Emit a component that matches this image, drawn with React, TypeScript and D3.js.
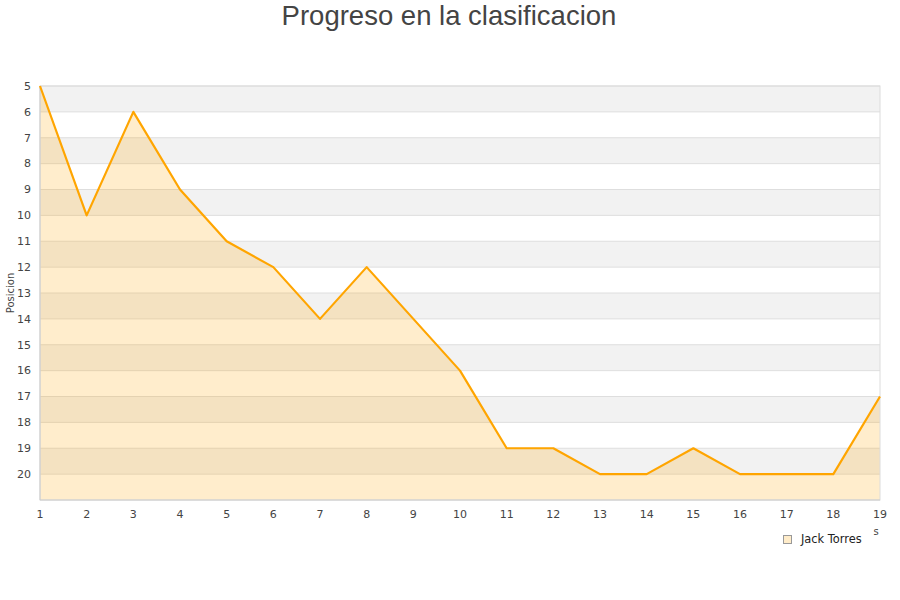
import React from "react";
import * as d3 from "d3";

// Matchdays (jornadas) and league position after each one
const jornadas = [1, 2, 3, 4, 5, 6, 7, 8, 9, 10, 11, 12, 13, 14, 15, 16, 17, 18, 19];
const posiciones = [5, 10, 6, 9, 11, 12, 14, 12, 14, 16, 19, 19, 20, 20, 19, 20, 20, 20, 17];
const yTicks = [5, 6, 7, 8, 9, 10, 11, 12, 13, 14, 15, 16, 17, 18, 19, 20];
const serie = "Jack Torres";
const titulo = "Progreso en la clasificacion";

const W = 900;
const H = 600;
const M = { left: 40, right: 880, top: 86, bottom: 500 };
const FONT = "'DejaVu Sans', sans-serif";

export default function App() {
  const x = d3.scaleLinear().domain([1, 19]).range([M.left, M.right]);
  const y = d3.scaleLinear().domain([5, 21]).range([M.top, M.bottom]);

  const data = jornadas.map((j, i) => ({ j, p: posiciones[i] }));
  const line = d3
    .line<{ j: number; p: number }>()
    .x((d) => x(d.j))
    .y((d) => y(d.p));
  const area = d3
    .area<{ j: number; p: number }>()
    .x((d) => x(d.j))
    .y0(M.bottom)
    .y1((d) => y(d.p));

  // alternating horizontal bands, one per position
  const bands = d3.range(5, 21);

  return (
    <svg
      width={W}
      height={H}
      style={{ position: "absolute", left: 0, top: 0, background: "#fff" }}
    >
      <text
        x={449}
        y={25}
        textAnchor="middle"
        fontFamily="'Liberation Sans', Arial, sans-serif"
        fontSize={27.5}
        fill="#444"
      >
        {titulo}
      </text>

      {bands.map((b, i) => (
        <rect
          key={b}
          x={M.left}
          y={y(b)}
          width={M.right - M.left}
          height={y(b + 1) - y(b)}
          fill={i % 2 === 0 ? "#f2f2f2" : "#ffffff"}
        />
      ))}
      {yTicks.map((t) => (
        <line
          key={t}
          x1={M.left}
          x2={M.right}
          y1={y(t)}
          y2={y(t)}
          stroke="#dedede"
          strokeWidth={1}
        />
      ))}

      <path d={area(data) ?? ""} fill="#ffa500" fillOpacity={0.2} />

      <rect
        x={M.left}
        y={M.top}
        width={M.right - M.left}
        height={M.bottom - M.top}
        fill="none"
        stroke="#dcdcdc"
        strokeWidth={1}
      />
      <line x1={M.left} x2={M.left} y1={M.top} y2={M.bottom} stroke="#ccc" />
      <line x1={M.left} x2={M.right} y1={M.bottom} y2={M.bottom} stroke="#ccc" />

      <path
        d={line(data) ?? ""}
        fill="none"
        stroke="#ffa500"
        strokeWidth={2.2}
        strokeLinejoin="round"
      />

      {yTicks.map((t) => (
        <text
          key={t}
          x={31}
          y={y(t)}
          dy="0.35em"
          textAnchor="end"
          fontFamily={FONT}
          fontSize={11}
          fill="#444"
        >
          {t}
        </text>
      ))}
      {jornadas.map((j) => (
        <text
          key={j}
          x={x(j)}
          y={518}
          textAnchor="middle"
          fontFamily={FONT}
          fontSize={11}
          fill="#444"
        >
          {j}
        </text>
      ))}

      <text
        transform={`translate(14,${(M.top + M.bottom) / 2}) rotate(-90)`}
        textAnchor="middle"
        fontFamily={FONT}
        fontSize={10}
        fill="#444"
      >
        Posicion
      </text>

      <text x={876} y={535} textAnchor="middle" fontFamily={FONT} fontSize={10} fill="#444">
        s
      </text>

      <rect
        x={783.5}
        y={535.5}
        width={8}
        height={8}
        fill="#ffecc9"
        stroke="#999"
        strokeWidth={1}
      />
      <text x={801} y={543} fontFamily={FONT} fontSize={11.4} fill="#222">
        {serie}
      </text>
    </svg>
  );
}
